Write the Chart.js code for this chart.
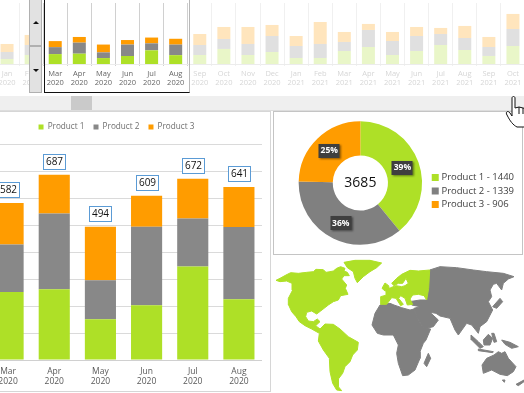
<!DOCTYPE html>
<html>
<head>
<meta charset="utf-8">
<script src="https://cdn.jsdelivr.net/npm/chart.js@4/dist/chart.umd.min.js"></script>
<style>
html, body { margin: 0; padding: 0; background: #fff; }
body { width: 524px; height: 393px; position: relative; overflow: hidden; font-family: "Open Sans", sans-serif; }
.box { position: absolute; box-sizing: border-box; }
canvas { position: absolute; }
</style>
</head>
<body>
<div class="box" style="left:0;top:96px;width:524px;height:15px;background:#efefef;border-bottom:1px solid #ddd"></div>
<div class="box" style="left:71px;top:96px;width:21px;height:14px;background:#cacaca"></div>
<div class="box" style="left:-2px;top:111px;width:273px;height:281px;border:1px solid #d6d6d6;background:#fff"></div>
<div class="box" style="left:273px;top:111px;width:250px;height:144px;border:1px solid #c4c4c4;background:#fff"></div>

<div style="position:absolute;left:-5px;top:3px;width:530px;height:85px"><canvas id="timeline"></canvas></div>
<div style="position:absolute;left:-29px;top:114px;width:291px;height:277px"><canvas id="main"></canvas></div>
<div style="position:absolute;left:275px;top:113px;width:249px;height:140px"><canvas id="donut"></canvas></div>
<div style="position:absolute;left:270px;top:255px;width:254px;height:138px"><canvas id="map"></canvas></div>

<!-- selection window and spinner over the timeline -->
<div class="box" style="left:44px;top:-2px;width:146px;height:95px;border-left:1px solid #111;border-bottom:1px solid #111;border-right:1px solid #b8b8b8"></div>
<div class="box" style="left:29px;top:-2px;width:13px;height:48px;background:#e2e2e2;border:1px solid #b0b0b0"></div>
<div class="box" style="left:29px;top:46px;width:13px;height:47px;background:#e2e2e2;border:1px solid #b0b0b0"></div>
<div class="box" style="left:33px;top:21px;border-left:3px solid transparent;border-right:3px solid transparent;border-bottom:3px solid #111"></div>
<div class="box" style="left:33px;top:69px;border-left:3px solid transparent;border-right:3px solid transparent;border-top:3px solid #111"></div>
<svg style="position:absolute;left:505px;top:95px" width="22" height="34" viewBox="0 0 22 34">
  <path d="M7 3 C7 1 10 1 10 3 L10 13 L14 12 L18 13 L22 14 L22 32 L12 32 C8 30 5 26 2 20 C0 17 3 15 5 18 L7 21 Z" fill="#fff" stroke="#111" stroke-width="1"/>
  <path d="M14 12 L14 19 M18 13 L18 19" stroke="#111" stroke-width="1" fill="none"/>
</svg>

<script>
const months = ['Jan','Feb','Mar','Apr','May','Jun','Jul','Aug','Sep','Oct','Nov','Dec','Jan','Feb','Mar','Apr','May','Jun','Jul','Aug','Sep','Oct'];
const years = ['2020','2020','2020','2020','2020','2020','2020','2020','2020','2020','2020','2020','2021','2021','2021','2021','2021','2021','2021','2021','2021','2021'];
const product1 = [127,229,252,262,151,203,347,225,229,382,229,305,153,153,331,432,229,331,483,356,204,458];
const product2 = [178,254,176,281,145,291,178,268,254,254,280,407,305,356,229,433,356,381,280,305,228,432];
const product3 = [204,255,154,144,198,115,147,148,280,305,432,280,254,559,254,153,229,229,153,306,255,382];
const selectedFrom = 2;
const selectedTo = 8;

// map outlines, in units of a 762 x 414 map sheet
const northAmerica = [[18,76],[30,70],[48,60],[62,53],[85,55],[110,52],[130,50],[138,43],[160,44],[168,52],[180,50],[190,48],[200,40],[212,35],[225,40],[222,48],[232,52],[238,62],[222,62],[215,72],[230,90],[226,100],[234,118],[212,122],[205,135],[190,140],[175,150],[152,168],[140,177],[125,168],[110,172],[107,185],[115,198],[130,200],[142,192],[150,200],[137,212],[150,222],[165,207],[190,208],[210,222],[235,245],[265,262],[262,285],[248,300],[240,320],[225,335],[218,355],[205,372],[205,395],[215,407],[200,405],[188,385],[180,350],[178,310],[160,285],[145,258],[148,235],[125,222],[105,212],[88,200],[78,185],[65,170],[56,150],[55,130],[68,105],[66,85],[50,78],[30,80]];
const greenland = [[222,22],[255,16],[300,16],[335,24],[320,38],[300,50],[280,65],[262,83],[255,70],[250,50],[232,38]];
const europe = [[479,45],[476,100],[470,135],[462,122],[445,118],[428,120],[420,132],[428,148],[412,150],[405,130],[392,122],[386,130],[400,148],[392,152],[378,130],[365,128],[350,148],[332,148],[332,125],[350,120],[348,105],[362,98],[378,92],[395,95],[405,92],[415,85],[408,70],[398,85],[385,85],[372,92],[365,85],[380,70],[395,58],[420,46],[445,48]];
const britain = [[336,100],[345,84],[356,92],[358,104],[345,108]];
const africa = [[330,150],[360,145],[372,150],[395,158],[420,165],[432,162],[445,195],[460,218],[482,222],[468,255],[460,265],[450,290],[450,310],[435,345],[415,360],[398,362],[385,325],[380,295],[385,270],[370,240],[340,240],[322,235],[306,210],[315,175]];
const madagascar = [[462,325],[475,295],[482,310],[470,335]];
const asia = [[479,45],[510,35],[560,38],[610,45],[650,50],[700,55],[732,65],[715,72],[700,85],[695,105],[680,85],[670,88],[660,105],[665,125],[655,140],[668,165],[650,200],[630,215],[625,235],[605,210],[590,205],[565,240],[555,225],[540,190],[510,183],[498,175],[480,172],[505,195],[490,215],[462,222],[440,185],[432,160],[450,155],[425,150],[418,140],[450,135],[470,135]];
const japan = [[668,155],[690,130],[698,140],[680,160]];
const sumatra = [[603,240],[625,260],[640,275],[630,280],[605,255]];
const borneo = [[640,255],[655,238],[668,250],[660,270],[642,270]];
const java = [[625,282],[670,290],[668,293],[625,287]];
const newGuinea = [[695,255],[720,262],[745,275],[725,280],[705,268]];
const philippines = [[665,235],[672,262],[680,260],[672,235]];
const australia = [[636,330],[650,310],[672,300],[685,290],[695,295],[705,290],[715,310],[738,335],[730,350],[712,362],[690,358],[665,345],[640,355]];
const tasmania = [[697,375],[705,375],[703,382]];
const newZealand = [[738,388],[762,375],[762,380],[745,392]];
const hudsonBay = [[170,78],[185,72],[200,78],[195,88],[205,100],[190,100],[178,90]];
const blackSea = [[425,122],[455,120],[462,132],[440,130]];
const caspian = [[470,130],[480,135],[482,150],[472,150]];
const redSea = [[432,162],[437,162],[466,220],[460,220]];

const GREEN = '#aee027', GREY = '#888888', ORANGE = '#ff9c00';
const PALE_GREEN = '#e9f6c8', PALE_GREY = '#e0e0e0', PALE_ORANGE = '#ffe5bd';
const FONT = '"Open Sans", sans-serif';

function inWindow(i) { return i >= selectedFrom && i < selectedTo; }
function pick(on, off) { return ctx => inWindow(ctx.index) ? on : off; }
function sum(a) { return a.reduce((s, v) => s + v, 0); }

const tickLabels = months.map((m, i) => [m, years[i]]);

new Chart(document.getElementById('timeline'), {
  type: 'bar',
  data: {
    labels: tickLabels,
    datasets: [
      { data: product1, backgroundColor: pick(GREEN, PALE_GREEN) },
      { data: product2, backgroundColor: pick(GREY, PALE_GREY) },
      { data: product3, backgroundColor: pick(ORANGE, PALE_ORANGE) }
    ]
  },
  options: {
    responsive: true, maintainAspectRatio: false, animation: false,
    categoryPercentage: 1, barPercentage: 0.54,
    plugins: { legend: { display: false }, tooltip: { enabled: false } },
    scales: {
      x: {
        stacked: true,
        afterFit: s => { s.height = 24; },
        border: { color: '#ececec' },
        grid: {
          tickLength: 2,
          color: ctx => (ctx.index >= selectedFrom && ctx.index <= selectedTo) ? '#d0d0d0' : '#f0f0f0'
        },
        ticks: {
          autoSkip: false, maxRotation: 0, padding: 3,
          font: { family: FONT, size: 7.5 },
          color: ctx => inWindow(ctx.index) ? '#666666' : '#d6d6d6'
        }
      },
      y: { stacked: true, display: false, min: 0, max: 1550 }
    }
  }
});

const totalsPlugin = {
  id: 'totals',
  beforeInit(chart) {
    // a little air between the legend and the top gridline
    const fit = chart.legend.fit;
    chart.legend.fit = function () { fit.call(this); this.height += 3; };
  },
  afterDatasetsDraw(chart) {
    const ctx = chart.ctx;
    const top = chart.getDatasetMeta(2).data;
    ctx.save();
    ctx.font = '10px ' + FONT;
    ctx.textAlign = 'center';
    ctx.textBaseline = 'middle';
    top.forEach((bar, i) => {
      const total = chart.data.datasets.reduce((s, d) => s + d.data[i], 0);
      const x = Math.round(bar.x) + 0.5, y = Math.round(bar.y - 6) + 0.5;
      ctx.fillStyle = '#fff';
      ctx.strokeStyle = '#5b9bd5';
      ctx.lineWidth = 1;
      ctx.fillRect(x - 11, y - 15, 22, 15);
      ctx.strokeRect(x - 11, y - 15, 22, 15);
      ctx.fillStyle = '#111';
      ctx.fillText(total, x, y - 7);
    });
    ctx.restore();
  }
};

new Chart(document.getElementById('main'), {
  type: 'bar',
  data: {
    labels: tickLabels.slice(selectedFrom, selectedTo),
    datasets: [
      { label: 'Product 1', data: product1.slice(selectedFrom, selectedTo), backgroundColor: GREEN },
      { label: 'Product 2', data: product2.slice(selectedFrom, selectedTo), backgroundColor: GREY },
      { label: 'Product 3', data: product3.slice(selectedFrom, selectedTo), backgroundColor: ORANGE }
    ]
  },
  options: {
    responsive: true, maintainAspectRatio: false, animation: false,
    categoryPercentage: 1, barPercentage: 0.674,
    plugins: {
      tooltip: { enabled: false },
      legend: {
        position: 'top',
        labels: { boxWidth: 5, boxHeight: 5, padding: 9, color: '#6e6e6e', font: { family: FONT, size: 8.2 } }
      }
    },
    scales: {
      x: {
        stacked: true,
        afterFit: s => { s.height = 31; },
        border: { color: '#d0d0d0' },
        grid: { display: false, drawTicks: false },
        ticks: {
          autoSkip: false, maxRotation: 0, padding: 6,
          font: { family: FONT, size: 8.5 }, color: '#595959'
        }
      },
      y: {
        stacked: true, min: 0, max: 800,
        afterFit: s => { s.width = 14; },
        border: { display: false },
        grid: { color: '#dadada', drawTicks: false },
        ticks: { display: false, stepSize: 100 }
      }
    }
  },
  plugins: [totalsPlugin]
});

const shares = [sum(product1.slice(selectedFrom, selectedTo)), sum(product2.slice(selectedFrom, selectedTo)), sum(product3.slice(selectedFrom, selectedTo))];
const shareNames = ['Product 1', 'Product 2', 'Product 3'];

const donutLabels = {
  id: 'donutLabels',
  afterLayout(chart) {
    // legend sits a bit below the ring's centre
    chart.legend.top += 8;
    chart.legend.bottom += 8;
  },
  afterDatasetsDraw(chart) {
    const ctx = chart.ctx;
    const meta = chart.getDatasetMeta(0);
    const total = sum(shares);
    ctx.save();
    meta.data.forEach((arc, i) => {
      const p = arc.tooltipPosition();
      ctx.shadowColor = 'rgba(0,0,0,0.45)';
      ctx.shadowBlur = 2;
      ctx.shadowOffsetX = 1;
      ctx.shadowOffsetY = 1;
      ctx.fillStyle = '#3f3f3f';
      ctx.fillRect(Math.round(p.x) - 10.5, Math.round(p.y) - 7, 21, 14);
      ctx.shadowColor = 'transparent';
      ctx.fillStyle = '#fff';
      ctx.font = 'bold 8.5px ' + FONT;
      ctx.textAlign = 'center';
      ctx.textBaseline = 'middle';
      ctx.fillText(Math.round(shares[i] / total * 100) + '%', p.x, p.y);
    });
    ctx.fillStyle = '#111';
    ctx.font = '14px ' + FONT;
    ctx.textAlign = 'center';
    ctx.textBaseline = 'middle';
    ctx.fillText(total, meta.data[0].x, meta.data[0].y);
    ctx.restore();
  }
};

new Chart(document.getElementById('donut'), {
  type: 'doughnut',
  data: {
    labels: shareNames.map((n, i) => n + ' - ' + shares[i]),
    datasets: [{ data: shares, backgroundColor: [GREEN, '#808080', ORANGE], borderWidth: 0 }]
  },
  options: {
    responsive: true, maintainAspectRatio: false, animation: false,
    radius: 61.7, cutout: 31,
    layout: { padding: { left: 16 } },
    plugins: {
      tooltip: { enabled: false },
      legend: {
        position: 'right',
        labels: { usePointStyle: true, pointStyle: 'rect', boxWidth: 3, boxHeight: 7, padding: 4, color: '#404040', font: { family: FONT, size: 9.5 } }
      }
    }
  },
  plugins: [donutLabels]
});

const greenParts = [northAmerica, greenland, europe, britain];
const greyParts = [africa, madagascar, asia, japan, sumatra, borneo, java, newGuinea, philippines, australia, tasmania, newZealand];
const waterParts = [hudsonBay, blackSea, caspian, redSea];

function part(points, color) {
  return {
    data: points.concat([points[0]]),
    showLine: true, fill: 'shape', tension: 0,
    backgroundColor: color, borderColor: color, borderWidth: 1, pointRadius: 0
  };
}

new Chart(document.getElementById('map'), {
  type: 'scatter',
  data: {
    datasets: greenParts.map(p => part(p, GREEN))
      .concat(greyParts.map(p => part(p, '#808080')))
      .concat(waterParts.map(p => part(p, '#ffffff')))
  },
  options: {
    responsive: true, maintainAspectRatio: false, animation: false,
    plugins: { legend: { display: false }, tooltip: { enabled: false } },
    scales: {
      x: { display: false, min: 0, max: 762 },
      y: { display: false, min: 0, max: 414, reverse: true }
    }
  }
});
</script>
</body>
</html>
